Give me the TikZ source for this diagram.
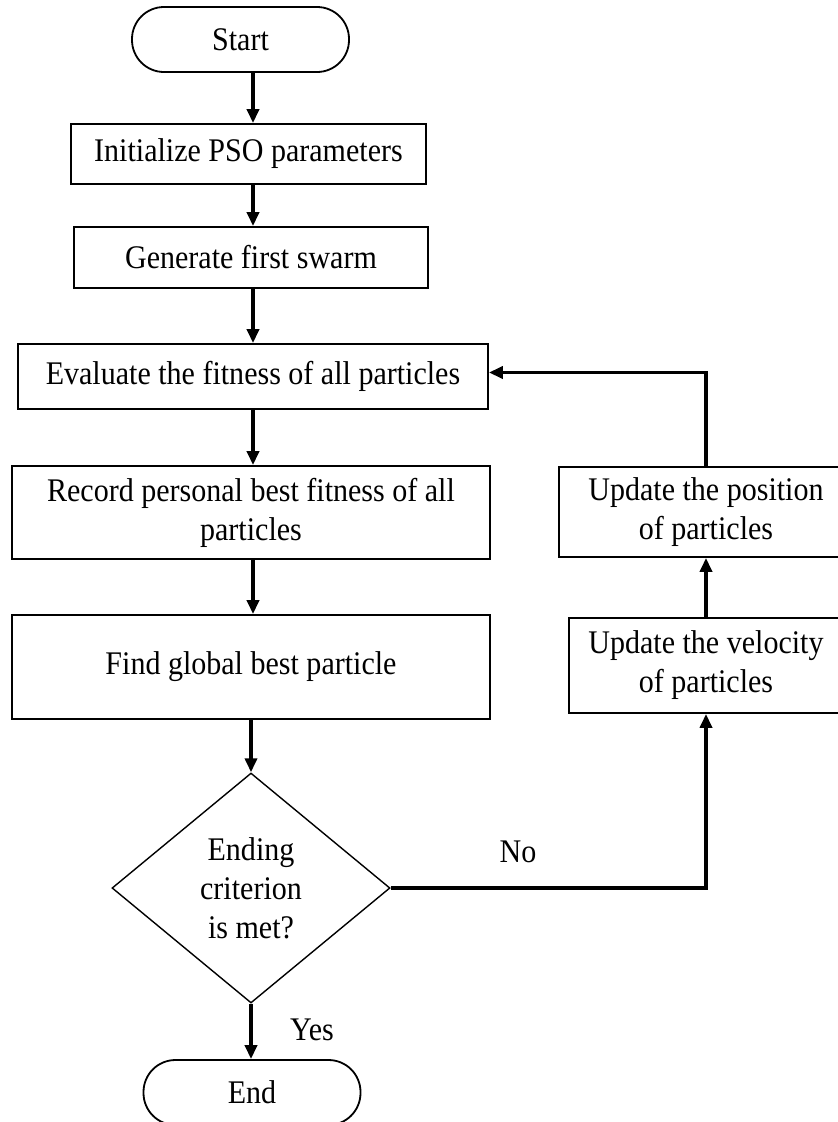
\documentclass[tikz,border=0pt]{standalone}
\usepackage{fontspec}
\setmainfont[FakeStretch=0.91]{Liberation Serif}
\usetikzlibrary{arrows.meta,shapes.geometric,positioning}

\newcommand{\flowfont}{\fontsize{33}{39}\selectfont}

\begin{document}
\begin{tikzpicture}[x=1pt, y=-1pt,
    box/.style={draw, line width=1.8pt, align=center, inner sep=0pt, font=\flowfont},
    term/.style={box, rounded corners=32pt, minimum width=217pt, minimum height=65pt},
    decision/.style={draw, diamond, line width=1.4pt, align=center, inner sep=0pt, font=\flowfont, minimum width=278pt, minimum height=230pt},
    arr/.style={-{Triangle[length=14pt,width=12pt]}, line width=3.5pt},
    lbl/.style={font=\flowfont}
]
\useasboundingbox (0,0) rectangle (838,1122);

% main column
\coordinate (spine) at (253,0);
\node[term] (start) at (240.5,39.5) {Start};
\node[box, minimum width=355pt, minimum height=60pt] (init) at (248.5,154) {Initialize PSO parameters};
\node[box, minimum width=354pt, minimum height=61pt] (gen) at (251,257.5) {Generate first swarm};
\node[box, minimum width=470pt, minimum height=65pt] (eval) at (253,376.5) {Evaluate the fitness of all particles};
\node[box, minimum width=478pt, minimum height=93pt] (rec) at (251,512.5) {Record personal best fitness of all\\particles};
\node[box, minimum width=478pt, minimum height=104pt] (find) at (251,667) {Find global best particle};
\node[decision] (dec) at (251,888) {Ending\\criterion\\is met?};
\node[term] (end) at (252,1092.5) {End};

% update loop
\node[box, minimum width=294pt, minimum height=90pt] (pos) at (706,512) {Update the position\\of particles};
\node[box, minimum width=274pt, minimum height=95pt] (vel) at (706,665.5) {Update the velocity\\of particles};

\node[lbl] (lblno) at (518,852) {No};
\node[lbl] (lblyes) at (312,1030) {Yes};

\draw[arr] (start.south -| spine) -- (init.north -| spine);
\draw[arr] (init.south -| spine) -- (gen.north -| spine);
\draw[arr] (gen.south -| spine) -- (eval.north -| spine);
\draw[arr] (eval.south -| spine) -- (rec.north -| spine);
\draw[arr] (rec.south -| spine) -- (find.north -| spine);
\draw[arr] (find.south -| dec.north) -- (dec.north);
\draw[arr] (dec.south) -- (end.north -| dec.south);
\draw[arr] (dec.east) -| (vel.south);
\draw[arr] (vel.north) -- (pos.south);
\draw[arr] (pos.north) |- ([yshift=4pt]eval.east);
\end{tikzpicture}
\end{document}
